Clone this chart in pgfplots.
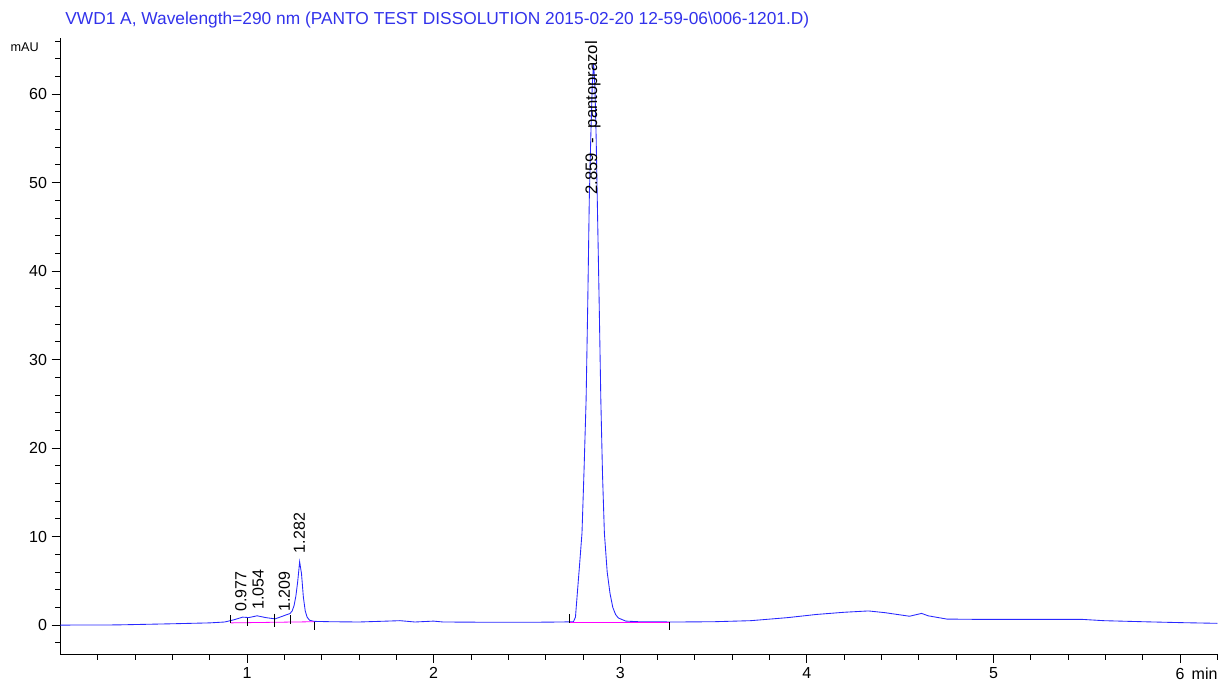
\documentclass[border=0pt]{standalone}
\usepackage{pgfplots}
\usepackage{pgfplotstable}
\pgfplotsset{compat=1.18}
\usepackage{fontspec}
\setmainfont{Liberation Sans}
\definecolor{trace}{RGB}{40,40,255}
\definecolor{titleblue}{RGB}{50,50,235}
\definecolor{basepink}{RGB}{255,0,255}
\pgfplotstableread{
x y
0.00 0.00
0.30 0.02
0.60 0.15
0.80 0.25
0.88 0.35
0.93 0.6
0.977 0.9
1.01 0.85
1.054 1.05
1.10 0.85
1.15 0.7
1.19 1.0
1.209 1.15
1.23 1.3
1.242 1.6
1.252 2.2
1.262 3.3
1.272 5.0
1.282 7.15
1.292 5.8
1.302 3.15
1.312 1.6
1.322 0.9
1.335 0.55
1.36 0.42
1.45 0.38
1.6 0.35
1.75 0.45
1.82 0.5
1.9 0.35
2.0 0.45
2.05 0.35
2.3 0.32
2.6 0.33
2.749 0.37
2.760 0.9
2.770 3.6
2.782 6.8
2.795 10.4
2.806 17.5
2.817 25.4
2.826 36.5
2.834 48.0
2.842 55.0
2.850 61.0
2.857 63.5
2.864 61.0
2.871 55.0
2.877 48.0
2.887 36.5
2.896 25.4
2.905 17.0
2.915 10.4
2.930 6.0
2.945 3.6
2.960 2.0
2.975 1.2
2.990 0.8
3.03 0.45
3.1 0.38
3.3 0.35
3.5 0.38
3.7 0.5
3.9 0.85
4.05 1.2
4.2 1.45
4.33 1.6
4.42 1.4
4.55 1.0
4.59 1.2
4.615 1.32
4.65 1.05
4.75 0.68
4.9 0.65
5.2 0.65
5.48 0.64
5.59 0.5
5.82 0.37
6.0 0.28
6.2 0.2
}\chromdata
\begin{document}
\begin{tikzpicture}
\begin{axis}[name=ax, scale only axis, width=867.7pt, height=462pt,
 xmin=0, xmax=6.2, ymin=-3.3, ymax=66.3,
 axis x line=bottom, axis y line=left,
 axis line style={-, black, line width=0.6pt},
 xtick={1,2,3,4,5,6}, xticklabels={1,2,3,4,5,{6\rlap{\hspace{0.45em}min}}},
 minor xtick={0.2,0.4,0.6,0.8,1.2,1.4,1.6,1.8,2.2,2.4,2.6,2.8,3.2,3.4,3.6,3.8,4.2,4.4,4.6,4.8,5.2,5.4,5.6,5.8,6.2},
 ytick={0,10,20,30,40,50,60}, minor ytick={-2,2,4,6,8,12,14,16,18,22,24,26,28,32,34,36,38,42,44,46,48,52,54,56,58,62,64,66},
 tick align=outside, major tick length=6.5pt, minor tick length=4pt,
 tick style={black, line width=0.6pt},
 ticklabel style={font=\fontsize{12}{14}\selectfont},
 /pgf/number format/assume math mode=true,
 clip=false,
]
\addplot[trace, line width=0.65pt] table[x=x, y=y] {\chromdata};
\addplot[basepink, line width=0.6pt] coordinates {(0.913,0.25) (1.36,0.38)};
\addplot[basepink, line width=0.6pt] coordinates {(2.727,0.36) (3.263,0.36)};
\addplot[black, line width=0.6pt] coordinates {(0.913,0.2) (0.913,1.1)};
\addplot[black, line width=0.6pt] coordinates {(1.0,0.76) (1.0,-0.1)};
\addplot[black, line width=0.6pt] coordinates {(1.146,1.3) (1.146,-0.2)};
\addplot[black, line width=0.6pt] coordinates {(1.23,1.1) (1.23,0.1)};
\addplot[black, line width=0.6pt] coordinates {(1.36,0.37) (1.36,-0.5)};
\addplot[black, line width=0.6pt] coordinates {(2.727,1.2) (2.727,0.26)};
\addplot[black, line width=0.6pt] coordinates {(3.263,0.37) (3.263,-0.6)};
\node[rotate=90, anchor=west, inner sep=0pt, font=\fontsize{12}{14}\selectfont] at (axis cs:0.967,1.5) {0.977};
\node[rotate=90, anchor=west, inner sep=0pt, font=\fontsize{12}{14}\selectfont] at (axis cs:1.06,1.7) {1.054};
\node[rotate=90, anchor=west, inner sep=0pt, font=\fontsize{12}{14}\selectfont] at (axis cs:1.20,1.5) {1.209};
\node[rotate=90, anchor=west, inner sep=0pt, font=\fontsize{12}{14}\selectfont] at (axis cs:1.28,8.1) {1.282};
\node[rotate=90, anchor=west, inner sep=0pt, font=\fontsize{12.5}{14}\selectfont] at (axis cs:2.853,48.6) {2.859\hspace{0.55em}-\hspace{0.6em}pantoprazol};
\end{axis}
\node[anchor=base west, inner sep=0pt, text=titleblue, font=\fontsize{13}{15}\selectfont] at ([xshift=3.5pt, yshift=10pt]ax.north west) {VWD1 A, Wavelength=290 nm (PANTO TEST DISSOLUTION 2015-02-20 12-59-06\textbackslash 006-1201.D)};
\node[anchor=east, inner sep=0pt, font=\fontsize{9.5}{11}\selectfont] at ([xshift=-16pt, yshift=-6.5pt]ax.north west) {mAU};
\pgfresetboundingbox
\path[use as bounding box] ([xshift=-45.3pt, yshift=-20.1pt]ax.south west) rectangle ([xshift=2.7pt, yshift=28.7pt]ax.north east);
\end{tikzpicture}
\end{document}
